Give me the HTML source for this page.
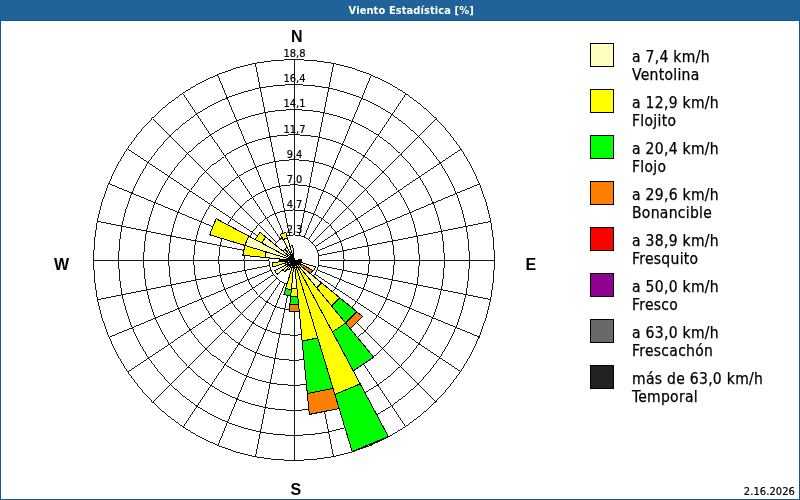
<!DOCTYPE html>
<html><head><meta charset="utf-8"><title>Viento Estadística [%]</title>
<style>
html,body{margin:0;padding:0;background:#fff;}
body{width:800px;height:500px;position:relative;overflow:hidden;font-family:"Liberation Sans",sans-serif;color:#000;}
.frame{position:absolute;left:0;top:0;width:798px;height:498px;border:1px solid #0E5A97;}
.title{position:absolute;left:0;top:0;width:800px;height:20px;background:#1F6399;border-bottom:1px solid #0E5A97;color:#fff;font-family:"DejaVu Sans Condensed","Liberation Sans",sans-serif;font-weight:bold;font-size:11px;line-height:21px;text-align:center;text-indent:22.5px;letter-spacing:0.1px;}
.box{position:absolute;left:590px;width:22px;height:22px;border:1px solid #000;}
.lt{position:absolute;left:632px;font-family:"DejaVu Sans Condensed","Liberation Sans",sans-serif;font-size:15.5px;line-height:18px;white-space:nowrap;letter-spacing:0.3px;-webkit-text-stroke:0.25px #000;}
.rl{position:absolute;left:264.5px;width:60px;text-align:center;font-family:"DejaVu Sans Condensed","Liberation Sans",sans-serif;font-size:11px;line-height:12px;-webkit-text-stroke:0.2px #000;}
.card{position:absolute;font-weight:bold;font-size:16px;line-height:16px;}
.date{position:absolute;right:5px;top:486px;font-family:"DejaVu Sans Condensed","Liberation Sans",sans-serif;font-size:11px;line-height:12px;letter-spacing:0.1px;-webkit-text-stroke:0.2px #000;}
</style></head><body>
<div class="frame"></div>
<div class="title">Viento Estadística [%]</div>
<svg width="800" height="500" viewBox="0 0 800 500" shape-rendering="crispEdges" style="position:absolute;left:0;top:0">
<g fill="none" stroke="#000" stroke-width="0.9">
<circle cx="294" cy="260" r="25.062"/>
<circle cx="294" cy="260" r="50.125"/>
<circle cx="294" cy="260" r="75.188"/>
<circle cx="294" cy="260" r="100.250"/>
<circle cx="294" cy="260" r="125.312"/>
<circle cx="294" cy="260" r="150.375"/>
<circle cx="294" cy="260" r="175.438"/>
<circle cx="294" cy="260" r="200.500"/>
<line x1="294.50" y1="235.44" x2="294.50" y2="60.00"/>
<line x1="299.39" y1="235.92" x2="333.62" y2="63.85"/>
<line x1="304.09" y1="237.35" x2="371.23" y2="75.26"/>
<line x1="308.42" y1="239.66" x2="405.89" y2="93.79"/>
<line x1="312.22" y1="242.78" x2="436.27" y2="118.73"/>
<line x1="315.34" y1="246.58" x2="461.21" y2="149.11"/>
<line x1="317.65" y1="250.91" x2="479.74" y2="183.77"/>
<line x1="319.08" y1="255.61" x2="491.15" y2="221.38"/>
<line x1="319.56" y1="260.50" x2="495.00" y2="260.50"/>
<line x1="319.08" y1="265.39" x2="491.15" y2="299.62"/>
<line x1="317.65" y1="270.09" x2="479.74" y2="337.23"/>
<line x1="315.34" y1="274.42" x2="461.21" y2="371.89"/>
<line x1="312.22" y1="278.22" x2="436.27" y2="402.27"/>
<line x1="308.42" y1="281.34" x2="405.89" y2="427.21"/>
<line x1="304.09" y1="283.65" x2="371.23" y2="445.74"/>
<line x1="299.39" y1="285.08" x2="333.62" y2="457.15"/>
<line x1="294.50" y1="285.56" x2="294.50" y2="461.00"/>
<line x1="289.61" y1="285.08" x2="255.38" y2="457.15"/>
<line x1="284.91" y1="283.65" x2="217.77" y2="445.74"/>
<line x1="280.58" y1="281.34" x2="183.11" y2="427.21"/>
<line x1="276.78" y1="278.22" x2="152.73" y2="402.27"/>
<line x1="273.66" y1="274.42" x2="127.79" y2="371.89"/>
<line x1="271.35" y1="270.09" x2="109.26" y2="337.23"/>
<line x1="269.92" y1="265.39" x2="97.85" y2="299.62"/>
<line x1="269.44" y1="260.50" x2="94.00" y2="260.50"/>
<line x1="269.92" y1="255.61" x2="97.85" y2="221.38"/>
<line x1="271.35" y1="250.91" x2="109.26" y2="183.77"/>
<line x1="273.66" y1="246.58" x2="127.79" y2="149.11"/>
<line x1="276.78" y1="242.78" x2="152.73" y2="118.73"/>
<line x1="280.58" y1="239.66" x2="183.11" y2="93.79"/>
<line x1="284.91" y1="237.35" x2="217.77" y2="75.26"/>
<line x1="289.61" y1="235.92" x2="255.38" y2="63.85"/>
</g>
<g stroke="#000" stroke-width="1" stroke-linejoin="miter">
<polygon fill="#000" points="294.20,260.40 301.17,259.71 301.17,261.09 294.20,260.40"/>
<polygon fill="#FFFFBE" points="294.20,260.40 301.53,261.12 301.25,262.54 294.20,260.40"/>
<polygon fill="#FFFFBE" points="294.20,260.40 315.36,266.82 313.70,270.82 294.20,260.40"/>
<polygon fill="#FFFFBE" points="294.20,260.40 300.70,263.87 299.90,265.08 294.20,260.40"/>
<polygon fill="#FF8000" points="300.70,263.87 312.72,270.30 310.44,273.73 299.90,265.08"/>
<polygon fill="#FFFFBE" points="294.20,260.40 321.55,282.84 316.64,287.75 294.20,260.40"/>
<polygon fill="#FFFF00" points="321.55,282.84 339.78,297.80 331.60,305.98 316.64,287.75"/>
<polygon fill="#00FF00" points="339.78,297.80 356.87,311.83 345.63,323.07 331.60,305.98"/>
<polygon fill="#FF8000" points="356.87,311.83 362.57,316.51 350.31,328.77 345.63,323.07"/>
<polygon fill="#FFFF00" points="294.20,260.40 345.63,323.07 332.42,331.90 294.20,260.40"/>
<polygon fill="#00FF00" points="345.63,323.07 373.68,357.25 353.26,370.90 332.42,331.90"/>
<polygon fill="#FFFF00" points="294.20,260.40 360.21,383.90 334.85,394.40 294.20,260.40"/>
<polygon fill="#00FF00" points="360.21,383.90 388.35,436.54 352.18,451.53 334.85,394.40"/>
<polygon fill="#FFFFBE" points="294.20,260.40 296.34,267.45 294.92,267.73 294.20,260.40"/>
<polygon fill="#FFFF00" points="296.34,267.45 317.73,337.98 302.15,341.08 294.92,267.73"/>
<polygon fill="#00FF00" points="317.73,337.98 333.03,388.41 307.31,393.52 302.15,341.08"/>
<polygon fill="#FF8000" points="333.03,388.41 339.13,408.51 309.37,414.42 307.31,393.52"/>
<polygon fill="#FFFFBE" points="294.20,260.40 297.01,288.93 291.39,288.93 294.20,260.40"/>
<polygon fill="#FFFF00" points="297.01,288.93 297.73,296.23 290.67,296.23 291.39,288.93"/>
<polygon fill="#00FF00" points="297.73,296.23 298.50,304.09 289.90,304.09 290.67,296.23"/>
<polygon fill="#FF8000" points="298.50,304.09 299.21,311.25 289.19,311.25 289.90,304.09"/>
<polygon fill="#FFFF00" points="294.20,260.40 291.31,289.74 285.64,288.61 294.20,260.40"/>
<polygon fill="#00FF00" points="291.31,289.74 290.70,295.97 283.82,294.61 285.64,288.61"/>
<polygon fill="#FFFFBE" points="294.20,260.40 292.06,267.45 290.73,266.90 294.20,260.40"/>
<polygon fill="#FFFFBE" points="294.20,260.40 288.99,270.15 287.19,268.95 294.20,260.40"/>
<polygon fill="#FFFFBE" points="294.20,260.40 289.52,266.10 288.50,265.08 294.20,260.40"/>
<polygon fill="#FFFF00" points="289.52,266.10 284.85,271.79 282.81,269.75 288.50,265.08"/>
<polygon fill="#FFFFBE" points="294.20,260.40 277.11,274.43 274.70,270.82 294.20,260.40"/>
<polygon fill="#FFFFBE" points="294.20,260.40 287.70,263.87 287.15,262.54 294.20,260.40"/>
<polygon fill="#FFFF00" points="294.20,260.40 273.04,266.82 272.20,262.57 294.20,260.40"/>
<polygon fill="#000" points="294.20,260.40 279.16,261.88 279.16,258.92 294.20,260.40"/>
<polygon fill="#FFFFBE" points="294.20,260.40 264.86,257.51 265.99,251.84 294.20,260.40"/>
<polygon fill="#FFFF00" points="264.86,257.51 242.86,255.34 244.83,245.42 265.99,251.84"/>
<polygon fill="#FFFFBE" points="294.20,260.40 244.83,245.42 248.70,236.08 294.20,260.40"/>
<polygon fill="#FFFF00" points="244.83,245.42 209.57,234.73 216.20,218.71 248.70,236.08"/>
<polygon fill="#FFFFBE" points="294.20,260.40 261.70,243.03 265.71,237.02 294.20,260.40"/>
<polygon fill="#FFFF00" points="261.70,243.03 255.20,239.55 260.02,232.35 265.71,237.02"/>
<polygon fill="#FFFFBE" points="294.20,260.40 282.81,251.05 284.85,249.01 294.20,260.40"/>
<polygon fill="#FFFFBE" points="294.20,260.40 284.85,249.01 287.25,247.40 294.20,260.40"/>
<polygon fill="#FFFFBE" points="294.20,260.40 283.08,239.60 287.35,237.83 294.20,260.40"/>
<polygon fill="#FFFF00" points="283.08,239.60 280.30,234.40 285.64,232.19 287.35,237.83"/>
<polygon fill="#FFFFBE" points="294.20,260.40 289.92,246.29 292.76,245.73 294.20,260.40"/>
</g>
</svg>
<div class="rl" style="top:223.7px">2,3</div>
<div class="rl" style="top:198.7px">4,7</div>
<div class="rl" style="top:173.6px">7,0</div>
<div class="rl" style="top:148.6px">9,4</div>
<div class="rl" style="top:123.5px">11,7</div>
<div class="rl" style="top:98.4px">14,1</div>
<div class="rl" style="top:73.4px">16,4</div>
<div class="rl" style="top:48.3px">18,8</div>
<div class="box" style="top:43px;background:#FFFFBE"></div>
<div class="lt" style="top:48px">a 7,4 km/h<br>Ventolina</div>
<div class="box" style="top:89px;background:#FFFF00"></div>
<div class="lt" style="top:94px">a 12,9 km/h<br>Flojito</div>
<div class="box" style="top:135px;background:#00FF00"></div>
<div class="lt" style="top:140px">a 20,4 km/h<br>Flojo</div>
<div class="box" style="top:181px;background:#FF8000"></div>
<div class="lt" style="top:186px">a 29,6 km/h<br>Bonancible</div>
<div class="box" style="top:227px;background:#FF0000"></div>
<div class="lt" style="top:232px">a 38,9 km/h<br>Fresquito</div>
<div class="box" style="top:273px;background:#8E0090"></div>
<div class="lt" style="top:278px">a 50,0 km/h<br>Fresco</div>
<div class="box" style="top:319px;background:#696969"></div>
<div class="lt" style="top:324px">a 63,0 km/h<br>Frescachón</div>
<div class="box" style="top:365px;background:#222225"></div>
<div class="lt" style="top:370px">más de 63,0 km/h<br>Temporal</div>
<div class="card" style="left:291px;top:29px">N</div>
<div class="card" style="left:290.5px;top:481.5px">S</div>
<div class="card" style="left:54px;top:257px">W</div>
<div class="card" style="left:525.5px;top:257px">E</div>
<div class="date">2.16.2026</div>
</body></html>
